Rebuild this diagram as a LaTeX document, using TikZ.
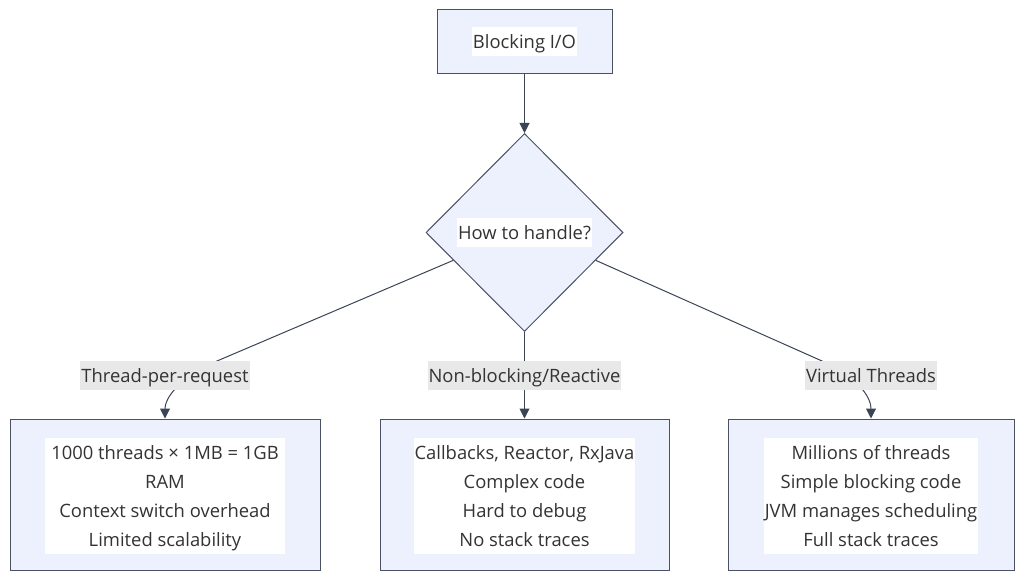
\documentclass[tikz,border=0pt]{standalone}
\usepackage{fontspec}
\setmainfont{Open Sans}
\usetikzlibrary{shapes.geometric,arrows.meta,calc}
\definecolor{nodefill}{HTML}{EDF0FD}
\definecolor{nodeline}{HTML}{4A5162}
\definecolor{edgeline}{HTML}{3A4455}
\definecolor{lblfill}{HTML}{E8E8E8}
\newcommand{\lnstrut}{\rule[-8pt]{0pt}{29pt}}
\tikzset{
  box/.style={draw=nodeline, fill=nodefill, line width=1pt, inner sep=0pt},
  dia/.style={diamond, draw=nodeline, fill=nodefill, line width=1pt, inner sep=0pt, minimum width=197pt, minimum height=198pt},
  txt/.style={fill=white, inner xsep=1pt, inner ysep=0pt, align=center, font=\fontsize{18.4}{29}\selectfont, text=black!80},
  elbl/.style={fill=lblfill, inner xsep=1pt, inner ysep=0pt, font=\fontsize{18.4}{29}\selectfont, text=black!80},
  edge/.style={draw=edgeline, line width=1pt},
  arr/.style={edge, -{Triangle[length=10pt,width=10pt]}},
}
\begin{document}
\begin{tikzpicture}[x=1pt,y=-1pt]
\useasboundingbox (0,0) rectangle (1024,580);
% top box
\node[box, minimum width=175pt, minimum height=64pt] (top) at (524.5,42) {};
\node[txt] (toptxt) at (top.center) {\lnstrut Blocking I/O};
% diamond
\node[dia] (dec) at (524.5,232.5) {};
\node[txt] (dectxt) at (dec.center) {\lnstrut How to handle?};
% bottom boxes
\node[box, minimum width=310pt, minimum height=151pt] (b1) at (165,494.5) {};
\node[box, minimum width=289pt, minimum height=151pt] (b2) at (524.5,494.5) {};
\node[box, minimum width=286pt, minimum height=151pt] (b3) at (871,494.5) {};
% edge coordinates
\coordinate (s1) at ($(dec.west)!0.28!(dec.south)$);
\coordinate (s3) at ($(dec.east)!0.28!(dec.south)$);
\coordinate (m1) at (217,361);
\coordinate (m3) at (822,361);
% edges
\draw[arr] (top.south) -- (dec.north);
\draw[arr] (s1) -- (m1) .. controls (175,380) and (165,400) .. (b1.north);
\draw[arr] (dec.south) -- (b2.north);
\draw[arr] (s3) -- (m3) .. controls (863,380) and (871,400) .. (b3.north);
% edge labels
\node[elbl] (l1) at (165,375.5) {\lnstrut Thread-per-request};
\node[elbl] (l2) at (524.5,375.5) {\lnstrut Non-blocking/Reactive};
\node[elbl] (l3) at (871,375.5) {\lnstrut Virtual Threads};
% box texts
\node[txt, minimum width=240pt] (t1) at ($(b1.center)+(0,1.5)$) {\lnstrut 1000 threads × 1MB = 1GB\\\lnstrut RAM\\\lnstrut Context switch overhead\\\lnstrut Limited scalability};
\node[txt] (t2) at ($(b2.center)+(0,1.5)$) {\lnstrut Callbacks, Reactor, RxJava\\\lnstrut Complex code\\\lnstrut Hard to debug\\\lnstrut No stack traces};
\node[txt] (t3) at ($(b3.center)+(0,1.5)$) {\lnstrut Millions of threads\\\lnstrut Simple blocking code\\\lnstrut JVM manages scheduling\\\lnstrut Full stack traces};
\end{tikzpicture}
\end{document}
